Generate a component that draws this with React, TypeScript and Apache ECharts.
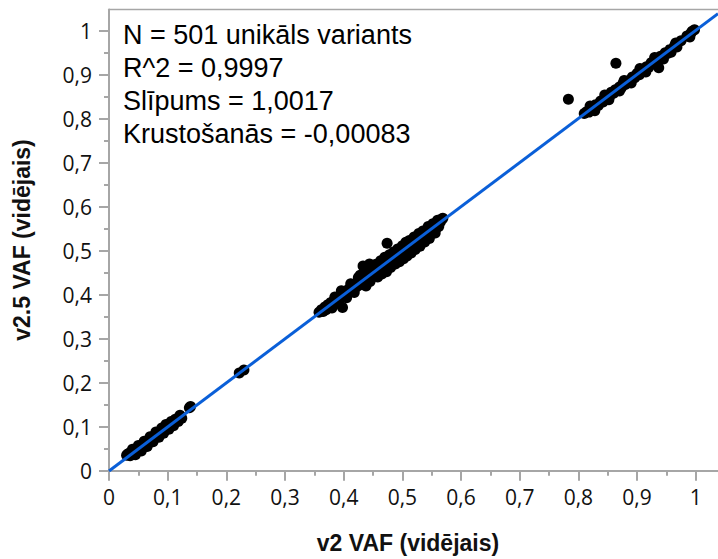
import React, { useEffect, useRef } from "react";
import * as echarts from "echarts";

// ---- data ----
const lowCluster: number[][] = [
  [0.030, 0.035], [0.032, 0.038], [0.034, 0.036], [0.035, 0.040], [0.036, 0.034], [0.038, 0.041],
  [0.039, 0.037], [0.040, 0.043], [0.041, 0.039], [0.042, 0.045], [0.043, 0.040], [0.044, 0.042],
  [0.045, 0.047], [0.046, 0.043], [0.047, 0.045], [0.048, 0.050], [0.049, 0.046], [0.050, 0.048],
  [0.051, 0.052], [0.052, 0.049], [0.053, 0.051], [0.054, 0.055], [0.055, 0.052], [0.056, 0.050],
  [0.057, 0.056], [0.058, 0.054], [0.059, 0.058], [0.060, 0.056], [0.061, 0.060], [0.062, 0.058],
  [0.063, 0.061], [0.064, 0.065], [0.065, 0.062], [0.066, 0.064], [0.067, 0.068], [0.068, 0.063],
  [0.069, 0.067], [0.070, 0.071], [0.071, 0.069], [0.072, 0.066], [0.073, 0.072], [0.074, 0.075],
  [0.075, 0.073], [0.076, 0.078], [0.077, 0.074], [0.078, 0.080], [0.079, 0.077], [0.080, 0.082],
  [0.081, 0.079], [0.082, 0.084], [0.083, 0.081], [0.084, 0.086], [0.085, 0.083], [0.086, 0.088],
  [0.087, 0.085], [0.088, 0.090], [0.090, 0.088], [0.091, 0.093], [0.092, 0.090], [0.094, 0.097],
  [0.095, 0.092], [0.096, 0.101], [0.098, 0.098], [0.099, 0.103], [0.100, 0.097], [0.101, 0.100],
  [0.103, 0.104], [0.104, 0.101], [0.105, 0.107], [0.107, 0.105], [0.108, 0.108], [0.110, 0.106],
  [0.112, 0.111], [0.114, 0.113], [0.116, 0.116], [0.118, 0.120], [0.120, 0.119], [0.122, 0.123],
  [0.137, 0.143], [0.139, 0.146],
  [0.040, 0.049], [0.045, 0.036], [0.050, 0.057], [0.055, 0.045], [0.060, 0.067], [0.065, 0.055],
  [0.070, 0.077], [0.075, 0.066], [0.080, 0.088], [0.085, 0.076], [0.090, 0.097], [0.093, 0.085],
  [0.097, 0.105], [0.102, 0.094], [0.106, 0.112], [0.110, 0.102], [0.113, 0.117], [0.118, 0.112],
  [0.121, 0.126], [0.124, 0.119],
];

const pairCluster: number[][] = [
  [0.222, 0.222], [0.230, 0.229],
];

const midCluster: number[][] = [
  [0.358, 0.360], [0.362, 0.366], [0.365, 0.362], [0.368, 0.372], [0.370, 0.366], [0.373, 0.377],
  [0.376, 0.373], [0.378, 0.382], [0.381, 0.378], [0.383, 0.386], [0.386, 0.383], [0.388, 0.391],
  [0.390, 0.386], [0.392, 0.395], [0.395, 0.392], [0.397, 0.400], [0.398, 0.371], [0.400, 0.396],
  [0.402, 0.405], [0.404, 0.401], [0.406, 0.410], [0.408, 0.404], [0.410, 0.414], [0.412, 0.408],
  [0.414, 0.418], [0.416, 0.412], [0.418, 0.422], [0.420, 0.416], [0.422, 0.426], [0.424, 0.420],
  [0.426, 0.430], [0.428, 0.423], [0.430, 0.434], [0.432, 0.427], [0.433, 0.465], [0.435, 0.438],
  [0.437, 0.431], [0.440, 0.443], [0.442, 0.436], [0.444, 0.470], [0.446, 0.449], [0.448, 0.441],
  [0.450, 0.452], [0.452, 0.443], [0.454, 0.456], [0.456, 0.447], [0.458, 0.461], [0.460, 0.451],
  [0.462, 0.464], [0.464, 0.453], [0.466, 0.467], [0.468, 0.456], [0.470, 0.471], [0.472, 0.461],
  [0.474, 0.517], [0.476, 0.477], [0.478, 0.466], [0.480, 0.481], [0.482, 0.470], [0.484, 0.486],
  [0.486, 0.475], [0.488, 0.491], [0.490, 0.479], [0.492, 0.494], [0.494, 0.483], [0.496, 0.480],
  [0.497, 0.500], [0.499, 0.488], [0.501, 0.504], [0.503, 0.493], [0.505, 0.508], [0.507, 0.497],
  [0.509, 0.512], [0.511, 0.502], [0.513, 0.515], [0.515, 0.506], [0.517, 0.519], [0.519, 0.510],
  [0.521, 0.523], [0.523, 0.514], [0.525, 0.528], [0.527, 0.518], [0.529, 0.532], [0.531, 0.522],
  [0.533, 0.536], [0.535, 0.527], [0.537, 0.540], [0.539, 0.532], [0.541, 0.546], [0.543, 0.536],
  [0.545, 0.548], [0.547, 0.540], [0.549, 0.552], [0.551, 0.545], [0.553, 0.540], [0.555, 0.556],
  [0.557, 0.550], [0.560, 0.561], [0.562, 0.555], [0.565, 0.566], [0.567, 0.572], [0.569, 0.574],
  [0.380, 0.370], [0.385, 0.395], [0.392, 0.380], [0.396, 0.409], [0.405, 0.393], [0.412, 0.425],
  [0.418, 0.405], [0.425, 0.439], [0.428, 0.444], [0.436, 0.451], [0.438, 0.420], [0.445, 0.430],
  [0.450, 0.464], [0.455, 0.469], [0.458, 0.440], [0.463, 0.477], [0.465, 0.447], [0.470, 0.485],
  [0.473, 0.452], [0.478, 0.491], [0.480, 0.462], [0.485, 0.497], [0.488, 0.470], [0.492, 0.504],
  [0.495, 0.475], [0.500, 0.511], [0.502, 0.482], [0.506, 0.519], [0.508, 0.488], [0.512, 0.523],
  [0.515, 0.495], [0.520, 0.531], [0.522, 0.503], [0.528, 0.539], [0.530, 0.510], [0.535, 0.545],
  [0.538, 0.520], [0.544, 0.555], [0.546, 0.528], [0.552, 0.561], [0.556, 0.540], [0.560, 0.569],
];

const highCluster: number[][] = [
  [0.810, 0.812], [0.814, 0.816], [0.818, 0.815], [0.822, 0.824], [0.826, 0.822], [0.830, 0.832],
  [0.834, 0.830], [0.838, 0.840], [0.842, 0.838], [0.846, 0.848], [0.850, 0.852], [0.853, 0.850],
  [0.856, 0.860], [0.860, 0.858], [0.863, 0.866], [0.866, 0.864], [0.870, 0.872], [0.873, 0.870],
  [0.876, 0.880], [0.880, 0.878], [0.884, 0.886], [0.888, 0.885], [0.892, 0.895], [0.896, 0.893],
  [0.900, 0.903], [0.904, 0.900], [0.908, 0.911], [0.912, 0.909], [0.916, 0.918], [0.920, 0.917],
  [0.924, 0.927], [0.928, 0.925], [0.932, 0.934], [0.936, 0.933], [0.940, 0.942], [0.944, 0.941],
  [0.948, 0.950], [0.952, 0.948], [0.956, 0.957], [0.964, 0.966], [0.968, 0.963], [0.975, 0.977],
  [0.985, 0.988], [0.990, 0.986], [0.994, 0.999], [0.998, 1.002],
  [0.820, 0.829], [0.828, 0.818], [0.845, 0.854], [0.852, 0.843], [0.870, 0.863], [0.878, 0.887],
  [0.890, 0.881], [0.905, 0.914], [0.915, 0.906], [0.930, 0.939], [0.945, 0.936], [0.958, 0.951],
  [0.966, 0.972], [0.992, 0.995],
];

const outliers: number[][] = [
  [0.783, 0.844], [0.864, 0.926], [0.937, 0.916],
];

const fitSlope = 1.0017;
const fitIntercept = -0.00083;

const tickValues = [0, 0.1, 0.2, 0.3, 0.4, 0.5, 0.6, 0.7, 0.8, 0.9, 1];

const statLines = [
  "N = 501 unikāls variants",
  "R^2 = 0,9997",
  "Slīpums = 1,0017",
  "Krustošanās = -0,00083",
];

const xTitle = "v2 VAF (vidējais)";
const yTitle = "v2.5 VAF (vidējais)";

const X_MAX = 1.038;
const Y_MAX = 1.048;

const fmt = (v: number) => {
  if (Math.abs(v) < 1e-9) return "0";
  if (Math.abs(v - 1) < 1e-9) return "1";
  return v.toFixed(1).replace(".", ",");
};

const axisGray = "#a6a6a6";

export default function App() {
  const ref = useRef<HTMLDivElement>(null);
  useEffect(() => {
    if (!ref.current) return;
    const chart = echarts.init(ref.current, undefined, { renderer: "svg" });
    const allPoints = [...lowCluster, ...pairCluster, ...midCluster, ...highCluster, ...outliers];
    const mkAxis = (max: number) => ({
      type: "value",
      min: 0,
      max,
      interval: 0.1,
      axisLine: { show: true, onZero: false, lineStyle: { color: axisGray, width: 2 } },
      axisTick: {
        show: true,
        length: 10,
        customValues: tickValues,
        lineStyle: { color: axisGray, width: 2 },
      },
      minorTick: { show: true, splitNumber: 2, length: 5, lineStyle: { color: axisGray, width: 2 } },
      splitLine: { show: false },
      axisLabel: {
        customValues: tickValues,
        formatter: fmt,
        color: "#111",
        fontFamily: "Open Sans",
        fontSize: 21,
      },
    });
    const xAxis: any = mkAxis(X_MAX);
    xAxis.axisLabel.margin = 16;
    const yAxis: any = mkAxis(Y_MAX);
    yAxis.axisLabel.margin = 17;

    chart.setOption({
      animation: false,
      backgroundColor: "#fff",
      grid: {
        left: 109,
        top: 9.6,
        right: 0,
        bottom: 88.3,
        show: false,
        containLabel: false,
      },
      xAxis,
      yAxis,
      series: [
        {
          type: "scatter",
          data: allPoints,
          symbol: "circle",
          symbolSize: 11,
          itemStyle: { color: "#000", opacity: 1 },
          z: 2,
        },
        {
          type: "line",
          data: [
            [0, fitIntercept],
            [X_MAX, fitSlope * X_MAX + fitIntercept],
          ],
          showSymbol: false,
          symbol: "none",
          lineStyle: { color: "#0a5fd8", width: 3 },
          clip: true,
          z: 3,
        },
      ],
      graphic: [
        {
          type: "line",
          shape: { x1: 109, y1: 9.6, x2: 718, y2: 9.6 },
          style: { stroke: axisGray, lineWidth: 1.5 },
          z: 1,
        },
        ...statLines.map((t, i) => ({
          type: "text",
          left: 123,
          top: 36 + i * 33.3 - 15,
          style: {
            text: t,
            fill: "#000",
            fontFamily: "Liberation Sans, Arial, sans-serif",
            fontSize: 27,
          },
          z: 10,
        })),
        {
          type: "text",
          x: 408,
          y: 543,
          style: {
            text: xTitle,
            fill: "#111",
            fontFamily: "Liberation Sans, Arial, sans-serif",
            fontWeight: "bold",
            fontSize: 23,
            align: "center",
            verticalAlign: "middle",
          },
        },
        {
          type: "text",
          x: 22,
          y: 240,
          rotation: Math.PI / 2,
          style: {
            text: yTitle,
            fill: "#111",
            fontFamily: "Liberation Sans, Arial, sans-serif",
            fontWeight: "bold",
            fontSize: 23,
            align: "center",
            verticalAlign: "middle",
          },
        },
      ],
    });
    return () => chart.dispose();
  }, []);
  return (
    <div
      ref={ref}
      style={{ position: "fixed", left: 0, top: 0, width: 718, height: 559, background: "#fff" }}
    />
  );
}
